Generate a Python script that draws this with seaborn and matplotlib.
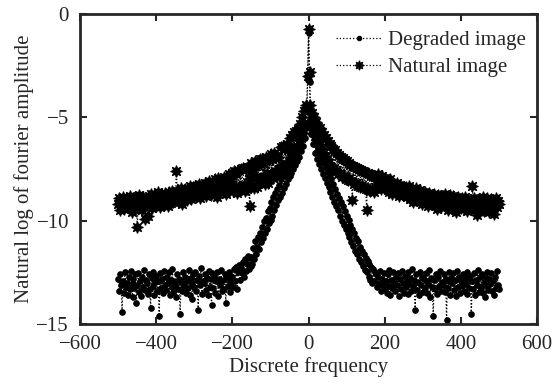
import numpy as np
import pandas as pd
import matplotlib
matplotlib.use("Agg")
import matplotlib.pyplot as plt
import seaborn as sns

# discrete frequency axis, -500 ... 500 in steps of 2.5 (401 samples)
freq = np.arange(-500, 502.5, 2.5)

natural = [
    # -500 .. -2.5
    -9.2, -8.9, -9.5, -9.0, -9.35, -8.85, -9.45, -9.1, -8.95, -9.3,
    -9.0, -9.4, -8.8, -9.25, -9.6, -8.95, -9.15, -9.45, -8.9, -9.2,
    -10.3, -9.0, -8.75, -9.3, -9.05, -9.5, -8.85, -9.2, -9.9, -8.95,
    -9.1, -9.75, -8.8, -9.25, -8.7, -9.4, -8.95, -9.15, -8.75, -9.3,
    -8.9, -9.2, -8.6, -9.05, -9.35, -8.7, -9.0, -8.8, -9.25, -8.65,
    -9.0, -8.75, -9.3, -8.6, -8.95, -9.15, -8.55, -8.85, -9.1, -8.7,
    -8.9, -7.6, -8.55, -9.05, -8.7, -8.9, -8.4, -9.2, -8.65, -8.85,
    -8.45, -8.8, -9.0, -8.5, -8.65, -8.3, -8.95, -8.55, -8.75, -8.35,
    -8.7, -8.3, -8.85, -8.45, -8.6, -8.2, -8.9, -8.4, -8.65, -8.25,
    -8.55, -8.15, -8.8, -8.35, -8.6, -8.1, -8.5, -8.75, -8.2, -8.45,
    -8.3, -8.65, -8.0, -8.45, -8.85, -7.95, -8.4, -8.6, -8.1, -8.35,
    -8.55, -7.9, -8.3, -8.7, -8.0, -8.2, -7.75, -8.5, -8.1, -8.35,
    -7.7, -8.55, -7.6, -8.4, -7.75, -8.65, -7.55, -8.3, -8.5, -7.5,
    -8.4, -7.45, -8.25, -8.55, -7.5, -8.45, -7.4, -8.0, -9.3, -7.6,
    -7.2, -8.3, -7.5, -8.4, -7.1, -7.9, -8.35, -7.3, -8.1, -7.0,
    -8.1, -7.0, -7.9, -7.2, -8.2, -6.9, -7.7, -8.15, -7.05, -7.85,
    -6.75, -7.9, -7.0, -7.95, -6.7, -7.6, -6.85, -7.85, -6.9, -7.5,
    -7.55, -6.45, -7.3, -6.4, -7.6, -6.55, -7.25, -6.3, -7.45, -6.5,
    -7.1, -6.0, -6.9, -5.85, -6.8, -5.7, -6.85, -5.65, -6.5, -5.55,
    -6.3, -5.3, -6.0, -5.0, -5.75, -4.7, -5.4, -4.4, -4.5, -3.0,
    # 0
    -0.7,
    # 2.5 .. 500
    -2.8, -4.4, -5.3, -4.8, -5.6, -5.0, -5.9, -5.2, -6.1, -5.45,
    -6.3, -5.5, -6.55, -5.7, -6.75, -5.85, -6.9, -6.0, -7.0, -6.15,
    -7.2, -6.3, -7.35, -6.4, -7.5, -6.55, -7.45, -6.6, -7.6, -6.7,
    -7.75, -6.8, -7.7, -6.9, -7.9, -6.95, -7.85, -7.05, -8.0, -7.1,
    -8.05, -7.2, -7.95, -7.3, -8.1, -9.0, -7.35, -8.2, -7.4, -8.15,
    -7.45, -8.3, -7.5, -8.35, -7.55, -8.25, -7.6, -8.4, -7.65, -8.45,
    -9.5, -7.7, -8.5, -7.75, -8.55, -7.8, -8.45, -7.85, -8.6, -7.9,
    -7.9, -8.2, -7.75, -8.35, -8.0, -8.45, -7.85, -8.1, -8.4, -7.95,
    -8.25, -8.05, -8.5, -8.15, -8.6, -8.0, -8.35, -8.7, -8.2, -8.45,
    -8.3, -8.65, -8.15, -8.5, -8.8, -8.25, -8.55, -8.35, -8.75, -8.4,
    -8.6, -8.35, -8.85, -8.45, -8.7, -8.3, -8.95, -8.5, -8.65, -9.1,
    -8.55, -8.8, -8.4, -8.95, -8.6, -9.05, -8.5, -8.75, -9.2, -8.65,
    -8.9, -8.6, -9.1, -8.7, -8.95, -9.3, -8.65, -8.85, -9.15, -8.75,
    -9.0, -8.7, -9.25, -8.85, -9.45, -8.75, -9.05, -8.8, -9.35, -8.9,
    -8.8, -9.15, -8.7, -9.3, -8.95, -9.5, -8.85, -9.1, -8.75, -9.25,
    -9.0, -8.8, -9.35, -8.9, -9.6, -9.05, -8.85, -9.2, -8.95, -9.4,
    -8.9, -9.15, -9.45, -8.85, -9.3, -9.0, -9.55, -8.95, -9.2, -9.05,
    -9.35, -8.3, -9.1, -8.9, -9.5, -9.0, -9.7, -9.15, -8.95, -9.4,
    -9.05, -9.3, -8.85, -9.55, -9.15, -9.0, -9.45, -8.9, -9.25, -9.6,
    -9.1, -8.95, -9.4, -9.0, -9.65, -9.2, -8.9, -9.35, -9.05, -9.2,
]

degraded = [
    # -500 .. -2.5
    -12.8, -13.4, -12.6, -13.1, -14.4, -12.9, -13.5, -12.5, -13.2, -13.0,
    -13.6, -12.7, -13.3, -12.45, -13.05, -13.7, -12.8, -13.25, -12.6, -14.0,
    -13.1, -12.55, -13.45, -12.9, -13.65, -12.7, -13.2, -12.4, -13.35, -12.85,
    -13.0, -13.55, -12.6, -13.3, -14.2, -12.75, -13.15, -12.5, -13.6, -12.95,
    -12.65, -13.4, -12.9, -14.6, -12.55, -13.25, -12.8, -13.5, -12.45, -13.1,
    -13.35, -12.7, -13.0, -12.5, -13.6, -12.85, -13.2, -12.35, -13.45, -12.9,
    -13.05, -13.7, -12.6, -13.3, -12.8, -14.5, -12.95, -13.4, -12.5, -13.15,
    -12.7, -13.5, -12.9, -13.25, -12.4, -13.6, -12.75, -13.05, -13.8, -12.6,
    -13.2, -12.5, -13.4, -12.85, -14.3, -12.65, -13.1, -12.3, -13.55, -12.9,
    -13.0, -12.6, -13.35, -12.75, -13.6, -12.45, -13.2, -12.8, -14.1, -12.55,
    -13.25, -12.7, -13.5, -12.9, -12.5, -13.65, -12.8, -13.1, -12.4, -13.4,
    -12.85, -13.3, -12.6, -14.0, -12.75, -13.15, -12.5, -13.45, -12.65, -12.95,
    -12.7, -13.2, -12.35, -12.9, -12.25, -13.3, -12.5, -12.15, -12.85, -12.3,
    -12.55, -12.0, -12.7, -11.85, -12.45, -12.1, -11.7, -12.35, -11.8, -12.2,
    -11.75, -12.1, -11.3, -11.85, -11.0, -11.6, -11.25, -10.8, -11.35, -10.6,
    -11.05, -10.3, -10.85, -10.0, -10.6, -9.85, -10.4, -9.55, -10.1, -9.4,
    -9.95, -9.1, -9.75, -8.85, -9.5, -8.65, -9.25, -8.45, -9.0, -8.25,
    -8.85, -8.0, -8.65, -7.8, -8.4, -7.7, -8.2, -7.5, -8.0, -7.35,
    -7.85, -7.2, -7.7, -6.95, -7.5, -6.8, -7.3, -6.6, -7.1, -6.4,
    -6.9, -6.15, -6.65, -5.9, -6.4, -5.6, -6.0, -5.3, -5.4, -3.2,
    # 0
    -0.9,
    # 2.5 .. 500
    -3.3, -5.1, -5.8, -5.5, -6.3, -5.9, -6.7, -6.2, -7.0, -6.5,
    -7.25, -6.75, -7.5, -7.0, -7.75, -7.2, -7.95, -7.4, -8.15, -7.6,
    -8.35, -7.8, -8.6, -8.0, -8.85, -8.2, -9.1, -8.45, -9.3, -8.7,
    -9.5, -8.9, -9.75, -9.1, -10.0, -9.3, -10.2, -9.55, -10.4, -9.75,
    -10.6, -9.95, -10.8, -10.2, -11.05, -10.4, -11.2, -10.6, -11.45, -10.85,
    -11.6, -11.0, -11.85, -11.25, -12.0, -11.45, -12.2, -11.6, -12.4, -11.8,
    -12.5, -11.95, -12.7, -12.1, -12.85, -12.25, -13.0, -12.35, -12.9, -12.5,
    -12.6, -13.2, -12.7, -13.05, -12.45, -13.4, -12.8, -13.1, -12.55, -13.3,
    -12.9, -13.5, -12.6, -13.15, -12.4, -13.6, -12.85, -13.25, -12.5, -13.0,
    -13.4, -12.7, -13.1, -12.55, -13.65, -12.8, -13.3, -12.45, -13.0, -13.5,
    -12.65, -13.2, -12.9, -13.55, -12.5, -13.05, -12.75, -13.4, -12.35, -13.15,
    -12.85, -14.3, -12.6, -13.35, -12.95, -13.6, -12.5, -13.1, -12.7, -13.45,
    -12.8, -13.25, -12.55, -13.5, -12.9, -13.05, -12.4, -13.7, -12.75, -13.2,
    -14.6, -12.85, -13.3, -12.6, -13.55, -12.7, -13.15, -12.45, -13.4, -12.95,
    -13.1, -12.6, -13.45, -12.8, -14.8, -12.9, -13.25, -12.5, -13.6, -12.75,
    -13.0, -12.55, -13.35, -12.85, -13.65, -12.45, -13.2, -12.7, -13.5, -12.9,
    -13.15, -12.6, -13.4, -12.8, -13.05, -12.5, -13.55, -12.75, -13.25, -12.65,
    -14.5, -12.9, -13.3, -12.55, -13.6, -12.85, -13.1, -12.4, -13.45, -12.7,
    -13.2, -12.6, -13.5, -12.95, -13.7, -12.75, -13.15, -12.5, -13.35, -12.8,
    -13.05, -12.55, -13.4, -12.9, -13.6, -12.7, -13.25, -12.45, -13.1, -13.3,
]

x_ticks = [-600, -400, -200, 0, 200, 400, 600]
y_ticks = [-15, -10, -5, 0]

sns.set_style("ticks")
plt.rcParams.update({
    "font.family": ["Liberation Serif", "DejaVu Serif"],
    "font.size": 15,
    "axes.linewidth": 2.0,
    "xtick.direction": "in",
    "ytick.direction": "in",
    "xtick.top": True,
    "ytick.right": True,
    "xtick.major.size": 5,
    "ytick.major.size": 5,
    "xtick.major.width": 1.5,
    "ytick.major.width": 1.5,
    "xtick.major.pad": 8,
    "ytick.major.pad": 8,
    "legend.frameon": False,
})

df = pd.DataFrame({"freq": freq, "Degraded image": degraded, "Natural image": natural})

fig = plt.figure(figsize=(5.53, 3.90), dpi=100)
ax = fig.add_axes([0.145, 0.169, 0.826, 0.795])

sns.lineplot(data=df, x="freq", y="Degraded image", ax=ax, color="black",
             linestyle=":", linewidth=0.9, marker="o", markersize=4,
             markeredgecolor="black", estimator=None, sort=False,
             label="Degraded image")
sns.lineplot(data=df, x="freq", y="Natural image", ax=ax, color="black",
             linestyle=":", linewidth=0.9, marker=(8, 1, 0), markersize=8.5,
             markeredgecolor="black", markeredgewidth=0.8, estimator=None,
             sort=False, label="Natural image")

ax.set_xlim(-600, 600)
ax.set_ylim(-15, 0)
ax.set_xticks(x_ticks)
ax.set_yticks(y_ticks)
ax.set_xlabel("Discrete frequency", fontsize=15, labelpad=2)
ax.set_ylabel("Natural log of fourier amplitude", fontsize=15, labelpad=2)
for s in ax.spines.values():
    s.set_visible(True)

ax.legend(loc="upper right", bbox_to_anchor=(1.012, 1.0),
          handlelength=2.2, handletextpad=0.3, borderaxespad=0.4,
          labelspacing=0.35, fontsize=15, markerscale=0.8)

fig.savefig("out.png", dpi=100, facecolor="white")
plt.close()
